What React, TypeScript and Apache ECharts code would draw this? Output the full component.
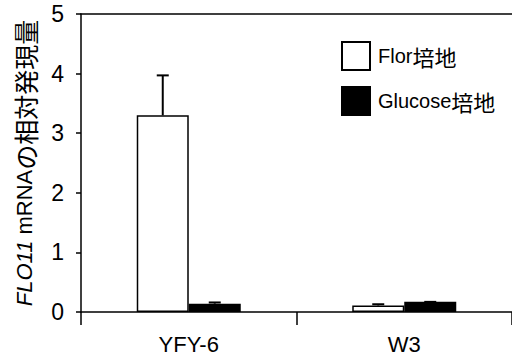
import React, { useEffect, useRef } from "react";
import * as echarts from "echarts";

const categories = ["YFY-6", "W3"];
const florValues = [3.3, 0.11];
const florErrors = [0.67, 0.02];
const glucoseValues = [0.14, 0.17];
const glucoseErrors = [0.02, 0.0];
const yTicks = [0, 1, 2, 3, 4, 5];

const FONT = '"Liberation Sans", Arial, "Noto Sans CJK JP", sans-serif';
const CJK = '"Noto Sans CJK JP", sans-serif';
const BAR_W = 52;

export default function App() {
  const ref = useRef<HTMLDivElement>(null);
  useEffect(() => {
    if (!ref.current) return;
    const chart = echarts.init(ref.current, null, { renderer: "svg" });
    const errData: any[] = [];
    categories.forEach((_, i) => {
      errData.push([i, florValues[i], florErrors[i], -1]);
      errData.push([i, glucoseValues[i], glucoseErrors[i], 1]);
    });
    chart.setOption({
      animation: false,
      backgroundColor: "#fff",
      grid: { left: 81, right: -3, top: 14, bottom: 47 },
      legend: {
        data: ["Flor培地", "Glucose培地"],
        orient: "vertical",
        left: 336,
        top: 36,
        itemWidth: 28,
        itemHeight: 28,
        itemGap: 15,
        icon: "rect",
        formatter: (name: string) => name.replace("培地", "{j|培地}"),
        textStyle: {
          fontFamily: FONT,
          fontSize: 20,
          color: "#000",
          padding: [0, 0, 0, 3],
          rich: { j: { fontFamily: CJK, fontSize: 22, color: "#000" } },
        },
      },
      xAxis: [
        {
          type: "category",
          data: categories,
          axisLine: { lineStyle: { color: "#000", width: 1.5 } },
          axisTick: { show: true, length: 13, lineStyle: { color: "#000", width: 1.5 } },
          axisLabel: { fontFamily: FONT, fontSize: 22, color: "#000", margin: 21 },
        },
        {
          type: "category",
          data: categories,
          position: "top",
          axisLine: { show: true, lineStyle: { color: "#000", width: 1.5 } },
          axisTick: { show: false },
          axisLabel: { show: false },
        },
      ],
      yAxis: {
        type: "value",
        min: yTicks[0],
        max: yTicks[yTicks.length - 1],
        interval: 1,
        axisLine: { show: true, lineStyle: { color: "#000", width: 1.5 } },
        axisTick: { show: true, length: 5, lineStyle: { color: "#000", width: 1.5 } },
        axisLabel: { fontFamily: FONT, fontSize: 23, color: "#000", margin: 17 },
        splitLine: { show: false },
        name: "{i|FLO11}{r| mRNA}{j|の相対発現量}",
        nameLocation: "middle",
        nameRotate: 90,
        nameGap: 44,
        nameTextStyle: {
          fontFamily: FONT,
          fontSize: 22,
          color: "#000",
          rich: {
            i: { fontFamily: FONT, fontSize: 22, fontStyle: "italic", color: "#000" },
            r: { fontFamily: FONT, fontSize: 22, color: "#000" },
            j: { fontFamily: CJK, fontSize: 25, color: "#000" },
          },
        },
      },
      series: [
        {
          name: "Flor培地",
          type: "bar",
          data: florValues,
          barWidth: BAR_W,
          barGap: "0%",
          itemStyle: { color: "#fff", borderColor: "#000", borderWidth: 1.5 },
        },
        {
          name: "Glucose培地",
          type: "bar",
          data: glucoseValues,
          barWidth: BAR_W,
          barGap: "0%",
          itemStyle: { color: "#000", borderColor: "#000", borderWidth: 1.5 },
        },
        {
          name: "err",
          type: "custom",
          z: 10,
          data: errData,
          encode: { x: 0, y: 1 },
          renderItem: (params: any, api: any) => {
            const c = api.value(0);
            const v = api.value(1);
            const e = api.value(2);
            const side = api.value(3);
            const p0 = api.coord([c, v]);
            const p1 = api.coord([c, v + e]);
            const x = p0[0] + (side * BAR_W) / 2;
            const style = { stroke: "#000", lineWidth: 2 };
            return {
              type: "group",
              children: [
                { type: "line", shape: { x1: x, y1: p0[1], x2: x, y2: p1[1] }, style },
                { type: "line", shape: { x1: x - 6, y1: p1[1], x2: x + 6, y2: p1[1] }, style },
              ],
            };
          },
        },
      ],
    });
    return () => chart.dispose();
  }, []);
  return (
    <div
      ref={ref}
      style={{ position: "absolute", left: 0, top: 0, width: 512, height: 359, background: "#fff" }}
    />
  );
}
